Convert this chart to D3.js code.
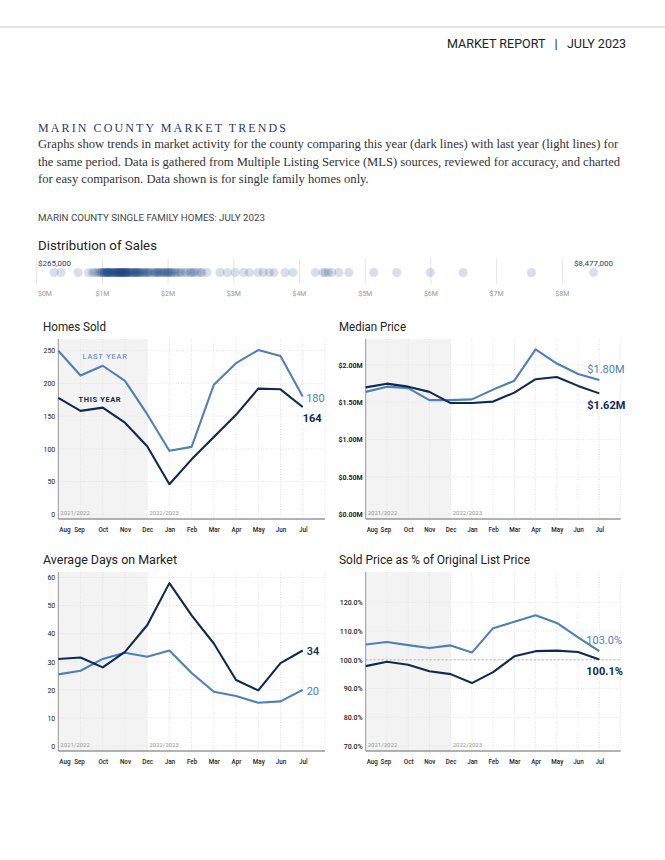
<!DOCTYPE html>
<html>
<head>
<meta charset="utf-8">
<script src="https://d3js.org/d3.v7.min.js"></script>
<style>
  body { margin:0; background:#fff; }
  svg text { font-family: Roboto, "Liberation Sans", sans-serif; }
</style>
</head>
<body>
<svg width="665" height="860"></svg>
<script>
// ---- data ----
var months = ["Aug","Sep","Oct","Nov","Dec","Jan","Feb","Mar","Apr","May","Jun","Jul"];
var seasons = ["2021/2022","2022/2023"];

var homesSoldThis = [178,158,163,140,104,46,84,118,152,192,191,164];
var homesSoldLast = [250,212,227,204,153,97,103,198,231,251,242,180];
var homesSoldTicks = [0,50,100,150,200,250];

var medianThis = [1.70,1.75,1.71,1.64,1.49,1.49,1.51,1.63,1.81,1.84,1.72,1.62];
var medianLast = [1.64,1.71,1.69,1.53,1.53,1.54,1.67,1.79,2.21,2.02,1.88,1.80];
var medianTicks = [0,0.5,1,1.5,2];

var domThis = [31,31.5,28,33.5,43,58,46.5,36.5,23.5,19.8,29.5,34];
var domLast = [25.5,26.8,31,33.2,31.8,34,26,19.3,17.8,15.4,15.9,20];
var domTicks = [0,10,20,30,40,50,60];

var pctThis = [97.8,99.3,98.3,96.0,95.0,91.9,95.7,101.2,103.0,103.2,102.7,100.1];
var pctLast = [105.3,106.2,105.1,104.1,105.0,102.5,111.0,113.2,115.5,112.8,107.8,103.0];
var pctTicks = [70,80,90,100,110,120];

// sale prices, $M
var salePrices = [0.265,0.37,0.63,0.79,0.85,0.88,0.92,0.95,0.97,0.99,1.0,
  1.01,1.03,1.04,1.05,1.06,1.07,1.08,1.09,1.1,1.1,
  1.11,1.12,1.14,1.15,1.16,1.17,1.18,1.19,1.2,
  1.21,1.22,1.23,1.24,1.25,1.25,1.26,1.27,1.28,1.29,1.3,1.3,
  1.31,1.32,1.33,1.34,1.35,1.35,1.36,1.37,1.38,1.39,1.4,
  1.41,1.42,1.44,1.45,1.46,1.48,1.49,1.5,
  1.51,1.52,1.53,1.55,1.56,1.57,1.58,1.6,
  1.62,1.64,1.65,1.67,1.69,1.7,1.72,1.75,1.78,1.8,
  1.81,1.83,1.85,1.86,1.88,1.9,1.92,1.94,1.95,1.97,1.99,
  2.0,2.02,2.04,2.05,2.07,2.1,2.12,2.15,2.18,2.2,2.25,2.28,
  2.33,2.35,2.38,2.4,2.45,2.49,2.52,2.59,
  2.79,2.9,3.02,3.15,3.24,3.37,3.45,3.54,3.61,3.78,3.9,
  4.24,4.36,4.39,4.44,4.49,4.6,4.75,5.13,5.48,5.99,6.49,7.53,8.477];
var priceTicks = [0,1,2,3,4,5,6,7,8];

// ---- styles ----
var DARK = "#0d2a52", LIGHT = "#4f7fb8", NAVY = "#1f3a6a";
var svg = d3.select("svg");

// header
svg.append("line").attr("x1",0).attr("x2",665).attr("y1",27).attr("y2",27)
  .attr("stroke","#c9c9c3").attr("stroke-width",1.2);
svg.append("text").attr("x",626).attr("y",48).attr("text-anchor","end")
  .attr("font-size",12).attr("fill","#222").attr("textLength",179).attr("lengthAdjust","spacingAndGlyphs")
  .text("MARKET REPORT   |   JULY 2023").attr("xml:space","preserve");

svg.append("text").attr("x",38).attr("y",132)
  .style("font-family","'Liberation Serif', serif").attr("font-size",12)
  .attr("letter-spacing",2.1).attr("fill",NAVY).text("MARIN COUNTY MARKET TRENDS");

var para = ["Graphs show trends in market activity for the county comparing this year (dark lines) with last year (light lines) for",
  "the same period. Data is gathered from Multiple Listing Service (MLS) sources, reviewed for accuracy, and charted",
  "for easy comparison. Data shown is for single family homes only."];
svg.append("g").selectAll("text").data(para).join("text")
  .attr("x",38).attr("y",function(d,i){ return 148 + i*17.5; })
  .style("font-family","'Liberation Serif', serif").attr("font-size",12.6).attr("fill","#333")
  .text(function(d){ return d; });

svg.append("text").attr("x",38).attr("y",221).attr("font-size",9.5).attr("fill","#444")
  .attr("textLength",227).attr("lengthAdjust","spacingAndGlyphs")
  .text("MARIN COUNTY SINGLE FAMILY HOMES: JULY 2023");

// ---- distribution of sales ----
svg.append("text").attr("x",38).attr("y",250).attr("font-size",12.5).attr("font-weight",400)
  .attr("fill","#222").attr("textLength",119).attr("lengthAdjust","spacingAndGlyphs").text("Distribution of Sales");

var px = d3.scaleLinear().domain([0,8]).range([36.7,562.3]);
var dist = svg.append("g");
dist.selectAll("line.g").data(priceTicks).join("line")
  .attr("x1",px).attr("x2",px).attr("y1",258).attr("y2",284)
  .attr("stroke","#e6e6e6");
dist.selectAll("text.t").data(priceTicks).join("text")
  .attr("x",function(d){ return d === 0 ? 38 : px(d); })
  .attr("text-anchor",function(d){ return d === 0 ? "start" : "middle"; })
  .attr("y",296).attr("font-size",7).attr("fill","#999")
  .text(function(d){ return "$" + d + "M"; });
dist.selectAll("circle").data(salePrices).join("circle")
  .attr("cx",px).attr("cy",272.5).attr("r",4.6)
  .attr("fill","#1a4080").attr("fill-opacity",0.17);
var fmtDollar = d3.format("$,.0f");
dist.append("text").attr("x",38).attr("y",266).attr("font-size",8).attr("fill",NAVY)
  .text(fmtDollar(d3.min(salePrices)*1e6));
dist.append("text").attr("x",613).attr("y",266).attr("text-anchor","end").attr("font-size",8).attr("fill",NAVY)
  .text(fmtDollar(d3.max(salePrices)*1e6));

// ---- line panels ----
function panel(o) {
  var g = svg.append("g");
  var x = d3.scalePoint().domain(months).range([o.x0, o.x1]);
  var y = d3.scaleLinear().domain(o.yDomain).range(o.yRange);

  g.append("text").attr("x",o.titleX).attr("y",o.top-8).attr("font-size",12).attr("font-weight",400)
    .attr("fill","#222").attr("textLength",o.titleW).attr("lengthAdjust","spacingAndGlyphs").text(o.title);

  g.append("rect").attr("x",x(months[0])).attr("y",o.top)
    .attr("width",x("Dec")-x(months[0])).attr("height",o.bottom-o.top).attr("fill","#f3f3f3");

  g.selectAll("line.vg").data(months.concat(["end"])).join("line")
    .attr("x1",function(d){ return d === "end" ? o.right : x(d); })
    .attr("x2",function(d){ return d === "end" ? o.right : x(d); })
    .attr("y1",o.top).attr("y2",o.bottom)
    .attr("stroke","#e2e2e2").attr("stroke-dasharray","1,1.5");
  g.selectAll("line.hg").data(o.ticks).join("line")
    .attr("x1",o.x0).attr("x2",o.right).attr("y1",y).attr("y2",y)
    .attr("stroke","#e2e2e2").attr("stroke-dasharray","1,1.5");

  if (o.refLine !== undefined) {
    g.append("line").attr("x1",o.x0).attr("x2",o.right)
      .attr("y1",y(o.refLine)).attr("y2",y(o.refLine))
      .attr("stroke","#b5b5b5").attr("stroke-dasharray","2,2");
  }

  // y axis
  var ya = g.append("g").attr("transform","translate(" + (o.x0-3) + ",0)")
    .call(d3.axisLeft(y).tickValues(o.ticks).tickSize(0).tickPadding(0).tickFormat(o.fmt));
  ya.select(".domain").remove();
  ya.selectAll("text").attr("font-size",7).attr("font-weight",o.tickWeight || 500).attr("fill","#222")
    .style("font-family","Roboto, sans-serif");

  // x axis
  var xa = g.append("g").attr("transform","translate(0," + (o.bottom+9) + ")")
    .call(d3.axisBottom(x).tickSize(0).tickPadding(0));
  xa.select(".domain").remove();
  xa.selectAll("text").attr("font-size",6.3).attr("font-weight",500).attr("fill","#222")
    .style("font-family","Roboto, sans-serif")
    .attr("text-anchor",function(d){ return d === months[0] ? "start" : "middle"; })
    .attr("dx",function(d,i){ return i === 0 ? "0.5" : (i === 1 ? "-1.5" : "0"); });

  g.append("line").attr("x1",o.x0).attr("x2",o.x0).attr("y1",o.top).attr("y2",o.bottom)
    .attr("stroke","#999");
  g.append("line").attr("x1",o.x0).attr("x2",o.right).attr("y1",o.bottom).attr("y2",o.bottom)
    .attr("stroke","#666");

  g.selectAll("text.season").data(seasons).join("text")
    .attr("x",function(d,i){ return x(i === 0 ? months[0] : "Dec") + 2; })
    .attr("y",o.bottom-4).attr("font-size",6).attr("fill","#999").text(function(d){ return d; });

  var line = d3.line().x(function(d,i){ return x(months[i]); }).y(function(d){ return y(d); });
  g.append("path").datum(o.last).attr("d",line).attr("fill","none")
    .attr("stroke",LIGHT).attr("stroke-width",2.1).attr("stroke-linejoin","round");
  g.append("path").datum(o.cur).attr("d",line).attr("fill","none")
    .attr("stroke",DARK).attr("stroke-width",2.1).attr("stroke-linejoin","round");

  var lx = x(months[months.length-1]);
  var lastV = o.last[o.last.length-1], curV = o.cur[o.cur.length-1];
  g.append("text").attr("x",lx+o.lastLab[0]).attr("y",y(lastV)+o.lastLab[1])
    .attr("font-size",11).attr("fill",LIGHT).text(o.endFmt(lastV));
  g.append("text").attr("x",lx+o.curLab[0]).attr("y",y(curV)+o.curLab[1])
    .attr("font-size",11).attr("font-weight",o.curWeight || 700).attr("fill",DARK).text(o.endFmt(curV));

  return {x:x, y:y, g:g};
}

var hs = panel({
  title:"Homes Sold", titleX:43, titleW:63,
  x0:58.3, x1:302.7, right:325, top:339, bottom:519,
  yDomain:[0,250], yRange:[514.3,350.7], ticks:homesSoldTicks, fmt:d3.format("d"),
  cur:homesSoldThis, last:homesSoldLast, endFmt:d3.format("d"),
  lastLab:[3.5,5.5], curLab:[0,15], tickWeight:400
});
hs.g.append("text").attr("x",hs.x("Sep")+2).attr("y",hs.y(237)).attr("font-size",7.5)
  .attr("letter-spacing",0.8).attr("fill",LIGHT).text("LAST YEAR");
hs.g.append("text").attr("x",hs.x("Sep")-2).attr("y",hs.y(172)).attr("font-size",7.5)
  .attr("font-weight",700).attr("letter-spacing",0.6).attr("fill",DARK).text("THIS YEAR");

panel({
  title:"Median Price", titleX:339, titleW:67,
  x0:365.7, x1:599.3, right:620.7, top:339, bottom:519,
  yDomain:[0,2], yRange:[514.3,365], ticks:medianTicks, fmt:function(d){ return "$" + d3.format(".2f")(d) + "M"; },
  cur:medianThis, last:medianLast, endFmt:function(d){ return "$" + d3.format(".2f")(d) + "M"; },
  lastLab:[-12,-7], curLab:[-12,16], tickWeight:700
});

panel({
  title:"Average Days on Market", titleX:43, titleW:134,
  x0:58.3, x1:302.7, right:325, top:572, bottom:751,
  yDomain:[0,60], yRange:[746,577.5], ticks:domTicks, fmt:d3.format("d"),
  cur:domThis, last:domLast, endFmt:d3.format("d"),
  lastLab:[4,5], curLab:[4,4.5], tickWeight:400, curWeight:500
});

panel({
  title:"Sold Price as % of Original List Price", titleX:339, titleW:191,
  x0:365.7, x1:599.3, right:620.7, top:572, bottom:751,
  yDomain:[70,120], yRange:[746,602.3], ticks:pctTicks, fmt:function(d){ return d3.format(".1f")(d) + "%"; },
  cur:pctThis, last:pctLast, endFmt:function(d){ return d3.format(".1f")(d) + "%"; },
  lastLab:[-13,-7], curLab:[-13,15.5], tickWeight:500, refLine:100
});
</script>
</body>
</html>
